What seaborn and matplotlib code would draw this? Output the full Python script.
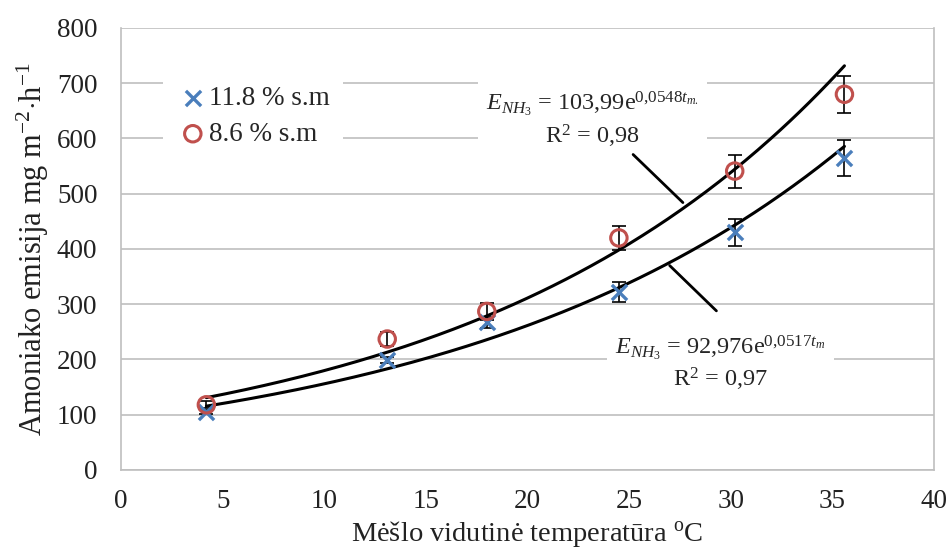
import matplotlib
matplotlib.use('Agg')
import matplotlib.pyplot as plt
import seaborn as sns
import numpy as np
import pandas as pd

# duomenys nuskaityti is grafiko
temp = [4.2, 13.1, 18.0, 24.5, 30.2, 35.6]
e_118 = [105, 199, 267, 322, 430, 565]
err_118 = [3, 5, 10, 18, 25, 33]
e_86 = [118, 237, 287, 420, 541, 680]
err_86 = [6, 12, 15, 22, 30, 33]

# trendo koeficientai (is lygciu grafike)
fit_86 = (103.99, 0.0548)
fit_118 = (92.976, 0.0517)

x_ticks = [0, 5, 10, 15, 20, 25, 30, 35, 40]
y_ticks = [0, 100, 200, 300, 400, 500, 600, 700, 800]

blue = '#4A7EBB'
red = '#C0504D'
grid = '#BFBFBF'

sns.set_style('white')
plt.rcParams['font.family'] = ['Liberation Serif', 'DejaVu Serif']
plt.rcParams['mathtext.fontset'] = 'custom'
plt.rcParams['mathtext.rm'] = 'Liberation Serif'
plt.rcParams['mathtext.it'] = 'Liberation Serif:italic'

fig = plt.figure(figsize=(9.5, 5.52), dpi=100)
ax = fig.add_axes([0.1274, 0.1486, 0.983 - 0.1274, 0.9493 - 0.1486])

df = pd.DataFrame({'t': temp, 'e118': e_118, 'e86': e_86})

# trendo linijos
tt = np.linspace(min(temp), max(temp), 200)
trend = pd.DataFrame({'t': tt,
                      'up': fit_86[0] * np.exp(fit_86[1] * tt),
                      'lo': fit_118[0] * np.exp(fit_118[1] * tt)})
sns.lineplot(data=trend, x='t', y='up', color='black', lw=2.2, ax=ax, zorder=3)
sns.lineplot(data=trend, x='t', y='lo', color='black', lw=2.2, ax=ax, zorder=3)

# paklaidos
ax.errorbar(temp, e_86, yerr=err_86, fmt='none', ecolor='black', elinewidth=1.2, capsize=5, capthick=1.2, zorder=4)
ax.errorbar(temp, e_118, yerr=err_118, fmt='none', ecolor='black', elinewidth=1.2, capsize=5, capthick=1.2, zorder=4)

sns.scatterplot(data=df, x='t', y='e118', marker='x', color=blue, s=120, linewidth=2.4, ax=ax, zorder=5, label='11.8 % s.m')
sns.scatterplot(data=df, x='t', y='e86', marker='o', facecolor='none', edgecolor=red, s=140, linewidth=2.2, ax=ax, zorder=5, label='8.6 % s.m')

ax.set_xlim(0, 40)
ax.set_ylim(0, 800)
ax.set_xticks(x_ticks)
ax.set_yticks(y_ticks)
ax.tick_params(axis='both', labelsize=19.5, labelcolor='#222222', length=6, width=1.2, direction='out', color=grid)
ax.tick_params(axis='x', pad=8)
ax.tick_params(axis='y', pad=11)
ax.yaxis.grid(True, color=grid, lw=1.2)
ax.set_axisbelow(True)
for s in ['left', 'bottom', 'right']:
    ax.spines[s].set_color(grid)
    ax.spines[s].set_linewidth(1.2)
ax.spines['top'].set_visible(False)

ax.set_xlabel(r'Mėšlo vidutinė temperatūra $^{\mathrm{o}}$C', fontsize=20.5, color='#222222', labelpad=3)
ax.set_ylabel(r'Amoniako emisija mg m$^{-2}$$\cdot$h$^{-1}$', fontsize=22, color='#222222', labelpad=4)

leg = ax.legend(loc='upper left', bbox_to_anchor=(0.035, 0.93), fontsize=19.5, frameon=True,
                handletextpad=0.0, borderpad=0.5, labelspacing=0.4, handlelength=1.2)
leg.get_frame().set_facecolor('white')
leg.get_frame().set_edgecolor('none')
leg.get_frame().set_alpha(1)

box = dict(facecolor='white', edgecolor='none', pad=6)
ax.text(23.2, 634, r'$E_{NH_3}$ = 103,99e$^{0{,}0548t_{m.}}$' + '\n' + r'R$^{2}$ = 0,98',
        fontsize=17.5, ha='center', va='center', multialignment='center', bbox=box, zorder=6, linespacing=1.2)
ax.text(29.5, 194, r'$E_{NH_3}$ = 92,976e$^{0{,}0517t_{m}}$' + '\n' + r'R$^{2}$ = 0,97',
        fontsize=17.5, ha='center', va='center', multialignment='center', bbox=box, zorder=6, linespacing=1.2)

# rodykles linijos
ax.plot([25.2, 27.65], [571, 484], color='black', lw=2, zorder=6)
ax.plot([27.0, 29.3], [370, 288], color='black', lw=2, zorder=6)

fig.savefig('out.png', dpi=100)
